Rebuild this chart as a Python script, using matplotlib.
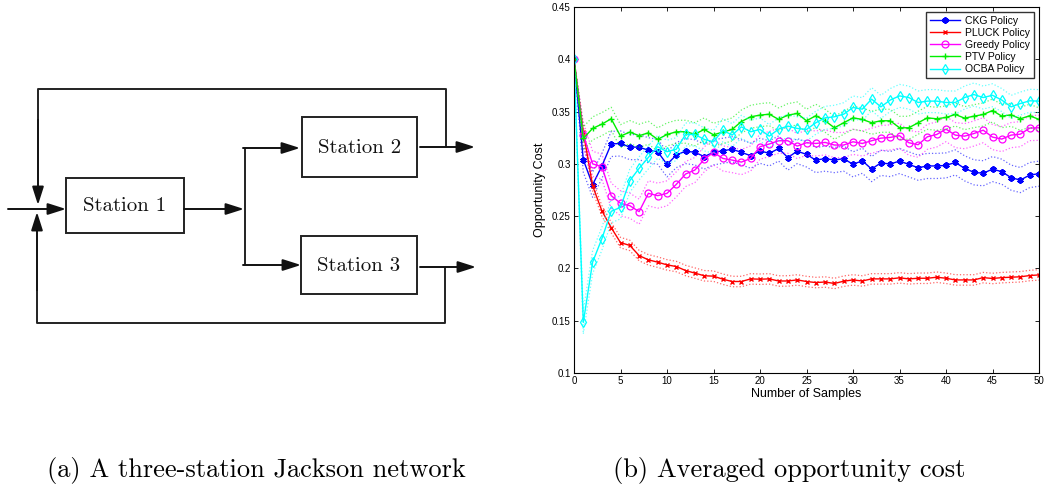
import numpy as np
import matplotlib
matplotlib.use("Agg")
import matplotlib.pyplot as plt
from matplotlib.patches import Rectangle

# ---------------- data ----------------
samples = list(range(0, 51))

ckg = [0.400, 0.304, 0.280, 0.298, 0.319, 0.3195, 0.316, 0.316, 0.313, 0.3116,
       0.2995, 0.3084, 0.3122, 0.311, 0.307, 0.311, 0.3125, 0.314, 0.311, 0.3078,
       0.3125, 0.310, 0.3147, 0.306, 0.3122, 0.309, 0.3036, 0.305, 0.3036, 0.305,
       0.2995, 0.303, 0.295, 0.301, 0.2998, 0.3027, 0.2995, 0.2963, 0.298, 0.298,
       0.2985, 0.3014, 0.2957, 0.2919, 0.291, 0.295, 0.2925, 0.2868, 0.2845, 0.2893,
       0.2906]

pluck = [0.400, 0.3307, 0.279, 0.255, 0.239, 0.2247, 0.222, 0.2123, 0.2082, 0.206,
         0.2034, 0.2018, 0.198, 0.1955, 0.193, 0.1926, 0.1897, 0.1875, 0.1875, 0.190,
         0.1897, 0.190, 0.188, 0.188, 0.189, 0.1875, 0.1865, 0.187, 0.1856, 0.1878,
         0.189, 0.188, 0.190, 0.190, 0.190, 0.191, 0.190, 0.1906, 0.1906, 0.1916,
         0.1906, 0.189, 0.189, 0.189, 0.1912, 0.1904, 0.1912, 0.1916, 0.192, 0.1932,
         0.1938]

greedy = [0.400, 0.328, 0.300, 0.2973, 0.2696, 0.2623, 0.260, 0.2543, 0.2718, 0.2696,
          0.2718, 0.2804, 0.2903, 0.2941, 0.3043, 0.311, 0.3052, 0.3036, 0.3017, 0.3052,
          0.3164, 0.319, 0.3221, 0.3221, 0.317, 0.3202, 0.3195, 0.3205, 0.318, 0.318,
          0.3211, 0.3195, 0.3221, 0.3246, 0.3253, 0.3269, 0.3202, 0.3183, 0.3259, 0.3281,
          0.3332, 0.3275, 0.3265, 0.329, 0.3322, 0.3256, 0.3237, 0.3275, 0.3284, 0.3342,
          0.3345]

ptv = [0.400, 0.3243, 0.3339, 0.338, 0.3431, 0.3265, 0.3304, 0.3269, 0.3297, 0.3234,
       0.3281, 0.3307, 0.3307, 0.3284, 0.3329, 0.3278, 0.3304, 0.3329, 0.3405, 0.345,
       0.3466, 0.3475, 0.3425, 0.3466, 0.3482, 0.3412, 0.346, 0.3412, 0.3345, 0.3393,
       0.344, 0.3425, 0.3393, 0.3412, 0.3412, 0.3345, 0.3345, 0.3393, 0.344, 0.3431,
       0.3444, 0.3472, 0.3437, 0.3456, 0.3472, 0.351, 0.3456, 0.3469, 0.3431, 0.346,
       0.3425]

ocba = [0.400, 0.1484, 0.206, 0.2285, 0.2546, 0.2584, 0.2839, 0.2957, 0.3062, 0.3164,
        0.3116, 0.314, 0.3281, 0.3281, 0.3234, 0.3211, 0.3322, 0.3275, 0.3354, 0.3307,
        0.3329, 0.3265, 0.3332, 0.3361, 0.3339, 0.3329, 0.3393, 0.344, 0.345, 0.3475,
        0.3539, 0.3523, 0.3619, 0.3545, 0.361, 0.365, 0.3634, 0.3587, 0.360, 0.360,
        0.3587, 0.3587, 0.3634, 0.3663, 0.3634, 0.3656, 0.361, 0.3545, 0.3577, 0.3603,
        0.360]

# half-width of the dotted confidence bands
band_ckg, band_pluck, band_greedy, band_ptv, band_ocba = 0.012, 0.005, 0.012, 0.011, 0.011

series_names = ["CKG Policy", "PLUCK Policy", "Greedy Policy", "PTV Policy", "OCBA Policy"]
yticks = [0.1, 0.15, 0.2, 0.25, 0.3, 0.35, 0.4, 0.45]
ytick_labels = ["0.1", "0.15", "0.2", "0.25", "0.3", "0.35", "0.4", "0.45"]
xticks = [0, 5, 10, 15, 20, 25, 30, 35, 40, 45, 50]

caption_a = "(a) A three-station Jackson network"
caption_b = "(b) Averaged opportunity cost"
station_labels = ["Station 1", "Station 2", "Station 3"]

# ---------------- figure ----------------
W, H = 1047, 490
fig = plt.figure(figsize=(W / 100, H / 100), dpi=100)

# overlay axes in pixel coordinates for the diagram and captions
bg = fig.add_axes([0, 0, 1, 1])
bg.set_xlim(0, W)
bg.set_ylim(H, 0)
bg.axis("off")

serif = ["cmr10", "DejaVu Serif"]
lwd = 1.4

# station boxes (x0, y0, x1, y1) in pixels
boxes = [(66, 178, 184, 233), (302, 117, 417, 177), (301, 236, 417, 294)]
for (x0, y0, x1, y1), lab in zip(boxes, station_labels):
    bg.add_patch(Rectangle((x0, y0), x1 - x0, y1 - y0, fill=False, lw=lwd, ec="#222222"))
    bg.text((x0 + x1) / 2, (y0 + y1) / 2 + 1, lab, ha="center", va="center",
            fontsize=15, family=serif, color="#111111")

def line(xs, ys):
    bg.plot(xs, ys, color="#222222", lw=lwd, solid_capstyle="butt")

def arrow(x0, y0, x1, y1):
    bg.annotate("", xy=(x1, y1), xytext=(x0, y0),
                arrowprops=dict(arrowstyle="-|>,head_length=1.1,head_width=0.35",
                                mutation_scale=10, lw=lwd, color="#111111",
                                shrinkA=0, shrinkB=0))

# input to station 1
arrow(8, 209, 66, 209)
# station 1 output to splitter
arrow(184, 209, 244, 209)
line([245, 245], [148, 265])
arrow(243, 148, 300, 148)
arrow(243, 265, 301, 265)
# outputs
arrow(420, 147, 475, 147)
arrow(420, 267, 476, 267)
# top feedback
line([446, 446, 38, 38], [147, 89, 89, 120])
arrow(38, 120, 38, 205)
# bottom feedback
line([445, 445, 37, 37], [267, 323, 323, 290])
arrow(37, 290, 37, 212)

# captions
bg.text(256, 470, caption_a, ha="center", va="center", fontsize=19, family=serif)
bg.text(789, 470, caption_b, ha="center", va="center", fontsize=19, family=serif)

# ---------------- chart ----------------
sans = ["Liberation Sans", "DejaVu Sans"]
ax = fig.add_axes([574 / W, 1 - 373 / H, (1039 - 574) / W, (373 - 7) / H])

x = np.array(samples)
styles = [
    (ckg, band_ckg, "#0000ff", dict(marker=(6, 2, 0), ms=4.5, mew=1.5)),
    (pluck, band_pluck, "#ff0000", dict(marker="x", ms=3.5, mew=1.0)),
    (greedy, band_greedy, "#ff00ff", dict(marker="o", ms=5, mfc="none", mew=0.9)),
    (ptv, band_ptv, "#00ee00", dict(marker="+", ms=5, mew=1.0)),
    (ocba, band_ocba, "#00ffff", dict(marker="d", ms=5.5, mfc="none", mew=0.9)),
]
handles = []
for (vals, bw, col, mk), name in zip(styles, series_names):
    v = np.array(vals)
    w = np.where(x == 0, 0.0, bw)
    ax.plot(x, v + w, ls=":", lw=0.9, color=col, alpha=0.6)
    ax.plot(x, v - w, ls=":", lw=0.9, color=col, alpha=0.6)
    h, = ax.plot(x, v, color=col, lw=1.0, label=name, **mk)
    handles.append(h)

ax.set_xlim(0, 50)
ax.set_ylim(0.1, 0.45)
ax.set_xticks(xticks)
ax.set_xticklabels([str(t) for t in xticks], fontsize=7, family=sans)
ax.set_yticks(yticks)
ax.set_yticklabels(ytick_labels, fontsize=7, family=sans)
ax.tick_params(direction="in", top=True, right=True, length=3, width=0.6, pad=2.5)
for s in ax.spines.values():
    s.set_linewidth(0.8)
ax.set_xlabel("Number of Samples", fontsize=9, family=sans, labelpad=1)
ax.set_ylabel("Opportunity Cost", fontsize=9, family=sans, labelpad=4)

leg = ax.legend(handles=handles, loc="upper right", handlelength=2.9,
                frameon=True, fancybox=False, edgecolor="black", borderpad=0.35,
                labelspacing=0.2, handletextpad=0.5, borderaxespad=0.5,
                prop={"family": sans, "size": 7.5})
leg.get_frame().set_linewidth(1.0)

fig.savefig("out.png", dpi=100)
